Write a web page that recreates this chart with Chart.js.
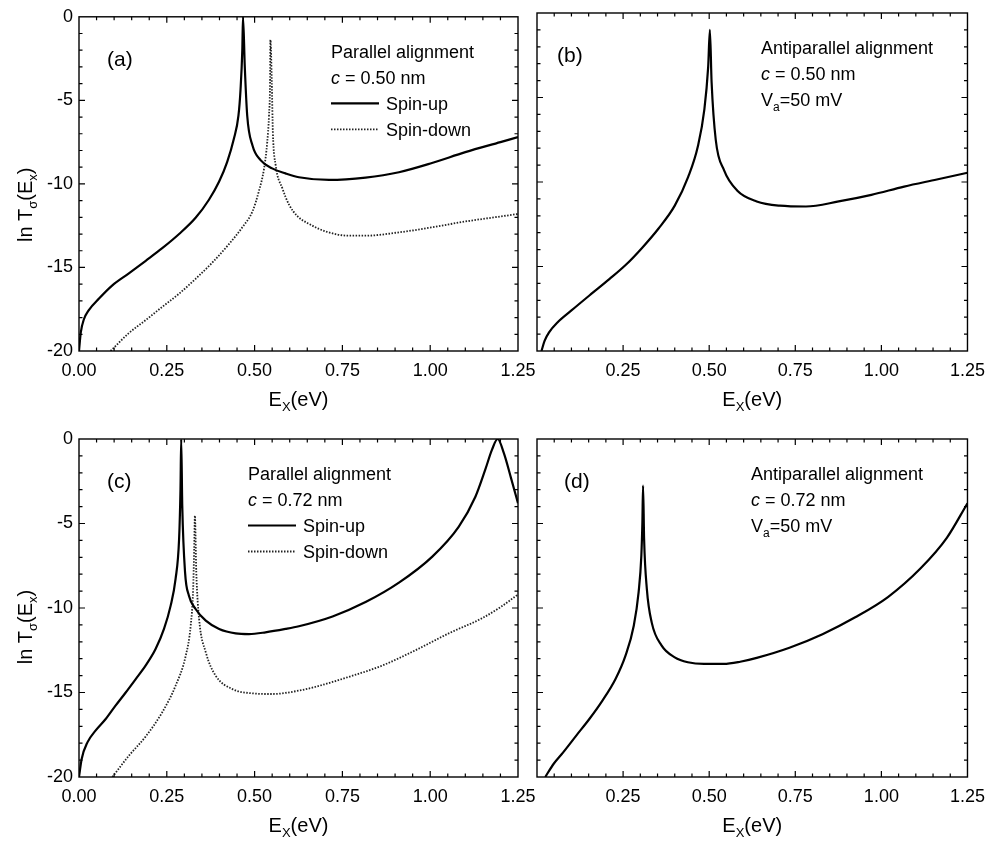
<!DOCTYPE html>
<html>
<head>
<meta charset="utf-8">
<script src="https://cdn.jsdelivr.net/npm/chart.js@4.4.1/dist/chart.umd.min.js"></script>
<style>
  html, body { margin: 0; padding: 0; background: #fff; }
  #wrap { position: relative; width: 994px; height: 844px; }
  #wrap canvas { position: absolute; left: 0; top: 0; }
</style>
</head>
<body>
<div id="wrap">
  <canvas id="pa" width="994" height="844"></canvas>
  <canvas id="pb" width="994" height="844"></canvas>
  <canvas id="pc" width="994" height="844"></canvas>
  <canvas id="pd" width="994" height="844"></canvas>
</div>
<script>
// ---- data (E_x in eV, ln T) ----
// (a) parallel, c = 0.50 nm
const aUpE = [0, 0.005, 0.014, 0.028, 0.057, 0.095, 0.142, 0.19, 0.237, 0.285, 0.332, 0.37, 0.399, 0.422, 0.441, 0.454, 0.46, 0.465, 0.467, 0.472, 0.479, 0.494, 0.517, 0.55, 0.588, 0.626, 0.712, 0.816, 0.911, 1.005, 1.1, 1.2, 1.25];
const aUpT = [-20, -18.9, -18.1, -17.55, -16.86, -16.07, -15.35, -14.6, -13.85, -13.0, -12.03, -10.95, -9.86, -8.68, -7.3, -5.92, -4.34, -1.97, 0, -2.96, -5.92, -7.7, -8.58, -9.07, -9.37, -9.6, -9.76, -9.62, -9.3, -8.75, -8.1, -7.5, -7.2];
const aDnE = [0.09, 0.142, 0.19, 0.237, 0.285, 0.332, 0.38, 0.427, 0.465, 0.494, 0.512, 0.527, 0.536, 0.541, 0.544, 0.545, 0.549, 0.552, 0.56, 0.579, 0.598, 0.622, 0.66, 0.703, 0.769, 0.816, 0.911, 1.005, 1.1, 1.2, 1.25];
const aDnT = [-20, -18.93, -18.15, -17.36, -16.57, -15.68, -14.7, -13.6, -12.6, -11.64, -10.45, -9.07, -7.5, -5.92, -3.94, -1.38, -3.94, -6.9, -8.88, -10.26, -11.24, -11.93, -12.45, -12.85, -13.1, -13.1, -12.9, -12.6, -12.25, -11.95, -11.8];
// (b) antiparallel, c = 0.50 nm, Va = 50 mV
const bE = [0.013, 0.022, 0.035, 0.06, 0.1, 0.153, 0.21, 0.258, 0.305, 0.353, 0.40, 0.439, 0.467, 0.486, 0.497, 0.502, 0.507, 0.519, 0.543, 0.581, 0.638, 0.705, 0.781, 0.876, 0.971, 1.066, 1.161, 1.25];
const bT = [-20, -19.4, -18.9, -18.3, -17.6, -16.7, -15.75, -14.9, -13.9, -12.75, -11.4, -9.7, -7.9, -5.7, -3.2, -1.0, -4.1, -7.5, -9.3, -10.5, -11.15, -11.4, -11.45, -11.15, -10.76, -10.27, -9.85, -9.45];
// (c) parallel, c = 0.72 nm
const cUpE = [0, 0.0076, 0.024, 0.047, 0.076, 0.104, 0.133, 0.161, 0.19, 0.218, 0.242, 0.261, 0.275, 0.285, 0.289, 0.291, 0.294, 0.302, 0.313, 0.332, 0.361, 0.399, 0.446, 0.484, 0.531, 0.588, 0.626, 0.722, 0.816, 0.911, 1.006, 1.081, 1.129, 1.157, 1.176, 1.192, 1.21, 1.23, 1.25];
const cUpT = [-20, -18.93, -17.95, -17.26, -16.57, -15.78, -15.0, -14.22, -13.4, -12.43, -11.24, -9.86, -8.28, -5.92, -2.96, 0, -3.94, -7.89, -9.27, -10.06, -10.75, -11.24, -11.5, -11.54, -11.44, -11.24, -11.08, -10.5, -9.65, -8.5, -6.96, -5.2, -3.4, -1.8, -0.63, 0, -0.85, -2.3, -3.8];
const cDnE = [0.095, 0.142, 0.19, 0.237, 0.275, 0.304, 0.318, 0.325, 0.328, 0.33, 0.334, 0.342, 0.361, 0.389, 0.437, 0.494, 0.55, 0.626, 0.674, 0.769, 0.864, 0.958, 1.053, 1.148, 1.2, 1.25];
const cDnT = [-20, -18.74, -17.6, -16.17, -14.6, -12.82, -11.05, -8.88, -6.5, -4.54, -7.89, -10.65, -12.62, -14.0, -14.8, -15.05, -15.09, -14.89, -14.66, -14.07, -13.4, -12.5, -11.5, -10.6, -9.95, -9.2];
// (d) antiparallel, c = 0.72 nm, Va = 50 mV
const dE = [0.024, 0.048, 0.076, 0.114, 0.152, 0.19, 0.228, 0.257, 0.281, 0.295, 0.303, 0.306, 0.308, 0.311, 0.319, 0.333, 0.362, 0.40, 0.438, 0.485, 0.542, 0.59, 0.638, 0.733, 0.829, 0.924, 1.019, 1.114, 1.19, 1.25];
const dT = [-20, -19.23, -18.54, -17.55, -16.57, -15.48, -14.2, -12.82, -11.05, -9.07, -6.9, -4.93, -2.76, -5.92, -8.88, -10.85, -12.23, -12.92, -13.21, -13.31, -13.31, -13.18, -12.95, -12.35, -11.55, -10.55, -9.35, -7.65, -5.85, -3.8];

const xTicks = [0, 0.25, 0.5, 0.75, 1.0, 1.25];
const yTicks = [-20, -15, -10, -5, 0];

const FONT = '"Liberation Sans", Arial, Helvetica, sans-serif';
const W = 994, H = 844;

const pts = (xs, ys) => xs.map((x, i) => ({ x: x, y: ys[i] }));

function fontOf(p) {
  return (p[3] ? 'italic ' : '') + p[1] + 'px ' + FONT;
}

// draws a run of text pieces [text, size, dy, italic]
function rich(ctx, parts, x, y, align) {
  let w = 0;
  parts.forEach(p => { ctx.font = fontOf(p); w += ctx.measureText(p[0]).width; });
  let cx = align === 'center' ? x - w / 2 : x;
  ctx.textAlign = 'left';
  ctx.textBaseline = 'alphabetic';
  parts.forEach(p => {
    ctx.font = fontOf(p);
    ctx.fillText(p[0], cx, y + (p[2] || 0));
    cx += ctx.measureText(p[0]).width;
  });
}

const decor = {
  id: 'decor',
  afterDraw(chart, args, opts) {
    const ctx = chart.ctx;
    const a = chart.chartArea;
    const xs = chart.scales.x, ys = chart.scales.y;
    ctx.save();
    ctx.strokeStyle = '#000';
    ctx.fillStyle = '#000';
    ctx.lineWidth = 1.4;
    ctx.strokeRect(a.left, a.top, a.right - a.left, a.bottom - a.top);

    // inward ticks on all four sides
    ctx.lineWidth = 1.2;
    ctx.beginPath();
    for (let i = 1; i < 25; i++) {
      const px = xs.getPixelForValue(i * 0.05);
      const len = i % 5 === 0 ? 6 : 3.5;
      ctx.moveTo(px, a.bottom); ctx.lineTo(px, a.bottom - len);
      ctx.moveTo(px, a.top); ctx.lineTo(px, a.top + len);
    }
    for (let i = 1; i < 20; i++) {
      const py = ys.getPixelForValue(-20 + i);
      const len = i % 5 === 0 ? 6 : 3.5;
      ctx.moveTo(a.left, py); ctx.lineTo(a.left + len, py);
      ctx.moveTo(a.right, py); ctx.lineTo(a.right - len, py);
    }
    ctx.stroke();

    // x title
    const midX = (a.left + a.right) / 2;
    rich(ctx, [['E', 20], ['X', 13, 5], ['(eV)', 20]], midX, a.bottom + 55, 'center');

    // y title
    if (opts.yTitle) {
      ctx.save();
      ctx.translate(32, a.top + 188);
      ctx.rotate(-Math.PI / 2);
      rich(ctx, [['ln T', 20], ['\u03c3', 13, 5], ['(E', 20], ['x', 13, 5], [')', 20]], 0, 0, 'center');
      ctx.restore();
    }

    // panel tag
    rich(ctx, [[opts.tag, 21]], opts.tagX, a.top + 49, 'left');

    // notes and legend
    const tx = opts.noteX;
    let y = a.top + 41;
    opts.notes.forEach(n => { rich(ctx, n, tx, y, 'left'); y += 26; });
    (opts.legend || []).forEach(item => {
      const ds = chart.data.datasets[item.ds];
      ctx.save();
      ctx.strokeStyle = ds.borderColor;
      ctx.lineWidth = ds.borderWidth;
      ctx.setLineDash(ds.borderDash || []);
      ctx.beginPath();
      ctx.moveTo(tx, y - 6.5);
      ctx.lineTo(tx + 48, y - 6.5);
      ctx.stroke();
      ctx.restore();
      rich(ctx, [[ds.label, 18]], tx + 55, y, 'left');
      y += 26;
    });
    ctx.restore();
  }
};

function solid(label, data) {
  return { label: label, data: data, borderColor: '#000', borderWidth: 2.2, pointRadius: 0,
           fill: false, cubicInterpolationMode: 'monotone' };
}
function dotted(label, data) {
  return { label: label, data: data, borderColor: '#222', borderWidth: 1.8, borderDash: [1.5, 1.5],
           pointRadius: 0, fill: false, cubicInterpolationMode: 'monotone' };
}

function makePanel(id, box, datasets, deco) {
  const [L, T, R, B] = box;
  const left = deco.yTitle;
  const yW = left ? 70 : 10, xH = 40;
  return new Chart(document.getElementById(id), {
    type: 'line',
    data: { datasets: datasets },
    options: {
      responsive: false,
      animation: false,
      devicePixelRatio: 1,
      layout: { padding: { left: L - yW, top: T, right: W - R, bottom: H - B - xH } },
      plugins: { legend: { display: false }, tooltip: { enabled: false }, decor: deco },
      scales: {
        x: {
          type: 'linear', min: 0, max: 1.25,
          afterFit: s => { s.height = xH; },
          afterBuildTicks: s => { s.ticks = xTicks.map(v => ({ value: v })); },
          grid: { display: false, drawTicks: false },
          border: { display: false },
          ticks: {
            padding: 9, color: '#000', font: { family: FONT, size: 18 }, maxRotation: 0,
            callback: v => (!left && v === 0) ? '' : v.toFixed(2)
          }
        },
        y: {
          type: 'linear', min: -20, max: 0,
          afterFit: s => { s.width = yW; },
          afterBuildTicks: s => { s.ticks = yTicks.map(v => ({ value: v })); },
          grid: { display: false, drawTicks: false },
          border: { display: false },
          ticks: { display: left, padding: 6, color: '#000', font: { family: FONT, size: 18 },
                   callback: v => String(v) }
        }
      }
    },
    plugins: [decor]
  });
}

const noteC50 = [['c', 18, 0, true], [' = 0.50 nm', 18]];
const noteC72 = [['c', 18, 0, true], [' = 0.72 nm', 18]];
const noteVa = [['V', 18], ['a', 12, 5], ['=50 mV', 18]];

makePanel('pa', [79, 13, 518, 351],
  [solid('Spin-up', pts(aUpE, aUpT)), dotted('Spin-down', pts(aDnE, aDnT))],
  { yTitle: true, tag: '(a)', tagX: 107, noteX: 331,
    notes: [[['Parallel alignment', 18]], noteC50], legend: [{ ds: 0 }, { ds: 1 }] });

makePanel('pb', [537, 13, 975, 351],
  [solid('Antiparallel', pts(bE, bT))],
  { yTitle: false, tag: '(b)', tagX: 557, noteX: 761,
    notes: [[['Antiparallel alignment', 18]], noteC50, noteVa] });

makePanel('pc', [79, 439, 518, 777],
  [solid('Spin-up', pts(cUpE, cUpT)), dotted('Spin-down', pts(cDnE, cDnT))],
  { yTitle: true, tag: '(c)', tagX: 107, noteX: 248,
    notes: [[['Parallel alignment', 18]], noteC72], legend: [{ ds: 0 }, { ds: 1 }] });

makePanel('pd', [537, 439, 975, 777],
  [solid('Antiparallel', pts(dE, dT))],
  { yTitle: false, tag: '(d)', tagX: 564, noteX: 751,
    notes: [[['Antiparallel alignment', 18]], noteC72, noteVa] });
</script>
</body>
</html>
